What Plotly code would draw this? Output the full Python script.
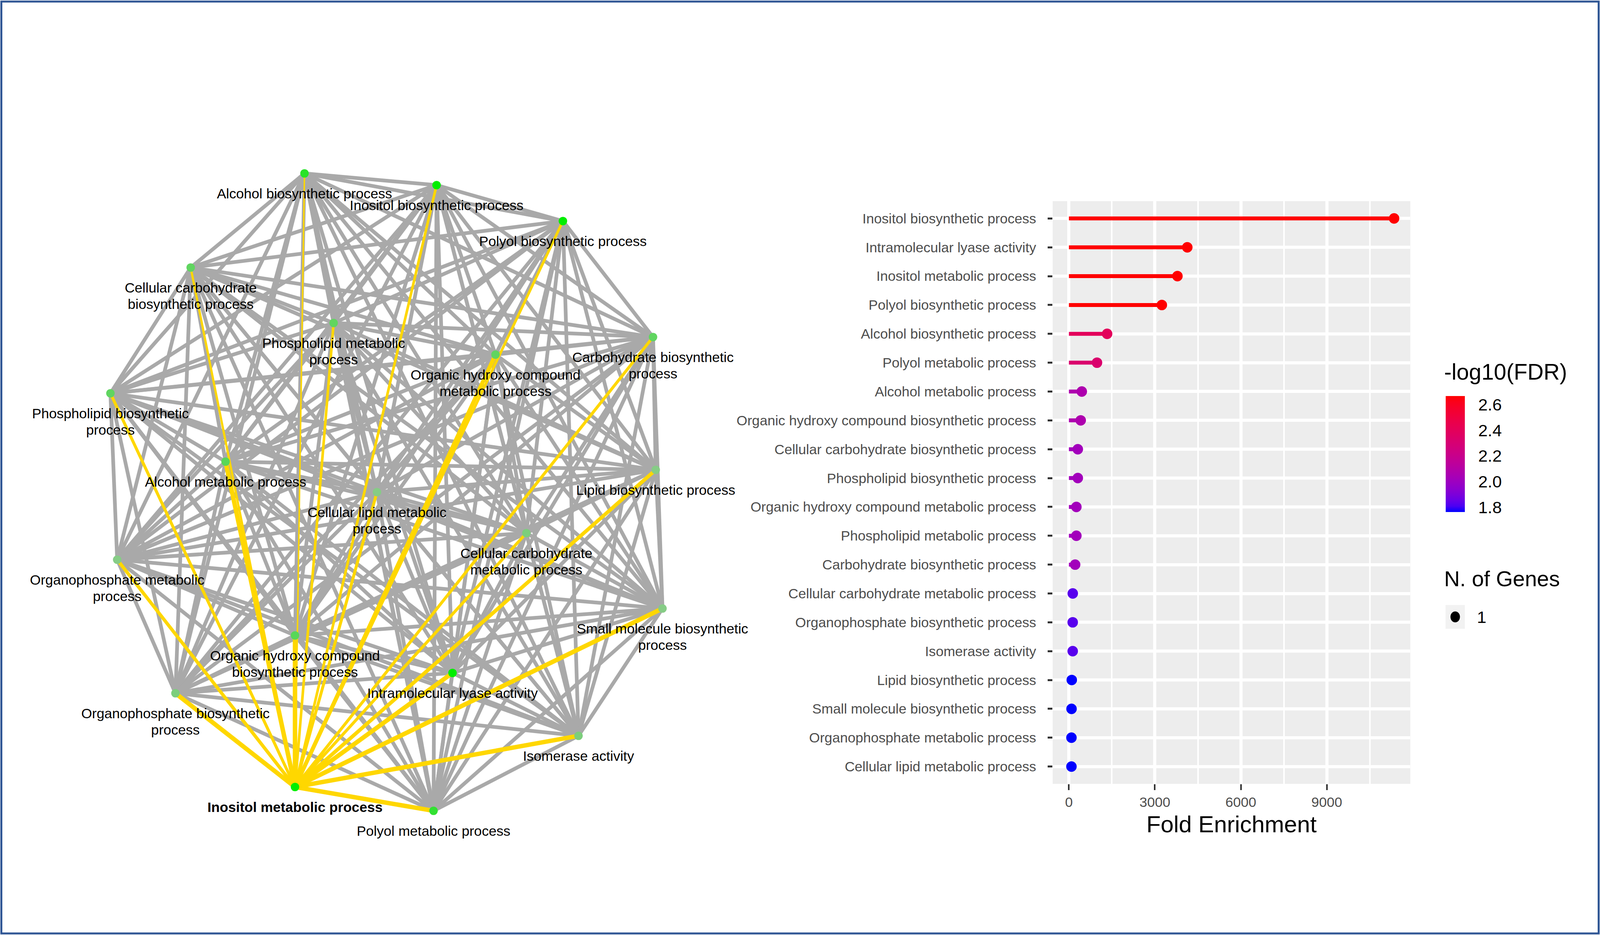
import itertools
import plotly.graph_objects as go

# ---------------- data ----------------
terms = [
    "Inositol biosynthetic process", "Intramolecular lyase activity",
    "Inositol metabolic process", "Polyol biosynthetic process",
    "Alcohol biosynthetic process", "Polyol metabolic process",
    "Alcohol metabolic process", "Organic hydroxy compound biosynthetic process",
    "Cellular carbohydrate biosynthetic process", "Phospholipid biosynthetic process",
    "Organic hydroxy compound metabolic process", "Phospholipid metabolic process",
    "Carbohydrate biosynthetic process", "Cellular carbohydrate metabolic process",
    "Organophosphate biosynthetic process", "Isomerase activity",
    "Lipid biosynthetic process", "Small molecule biosynthetic process",
    "Organophosphate metabolic process", "Cellular lipid metabolic process",
]
fold_enrichment = [11348, 4131, 3787, 3243, 1333, 980, 449, 411, 310, 310,
                   260, 260, 217, 134, 132, 132, 99, 91, 88, 88]
neg_log10_fdr = [2.667, 2.667, 2.667, 2.667, 2.40, 2.33, 2.07, 2.07, 2.02, 2.02,
                 2.02, 2.02, 2.02, 1.83, 1.83, 1.83, 1.764, 1.764, 1.764, 1.764]
n_genes = [1] * 20
x_ticks = [0, 3000, 6000, 9000]
x_minor_ticks = [1500, 4500, 7500, 10500]
cbar_ticks = [1.8, 2.0, 2.2, 2.4, 2.6]

# network layout (node positions from the graph layout, same order as terms)
node_x = [1289, 1336, 871, 1662, 899, 1280, 666, 871, 563, 326,
          1463, 985, 1928, 1554, 518, 1708, 1936, 1956, 346, 1113]
node_y = [474, 1723, 2015, 566, 444, 2076, 1182, 1627, 685, 1007,
          908, 827, 863, 1365, 1775, 1884, 1203, 1558, 1433, 1260]
node_labels = [
    "Inositol biosynthetic process", "Intramolecular lyase activity",
    "Inositol metabolic process", "Polyol biosynthetic process",
    "Alcohol biosynthetic process", "Polyol metabolic process",
    "Alcohol metabolic process", "Organic hydroxy compound\nbiosynthetic process",
    "Cellular carbohydrate\nbiosynthetic process", "Phospholipid biosynthetic\nprocess",
    "Organic hydroxy compound\nmetabolic process", "Phospholipid metabolic\nprocess",
    "Carbohydrate biosynthetic\nprocess", "Cellular carbohydrate\nmetabolic process",
    "Organophosphate biosynthetic\nprocess", "Isomerase activity",
    "Lipid biosynthetic process", "Small molecule biosynthetic\nprocess",
    "Organophosphate metabolic\nprocess", "Cellular lipid metabolic\nprocess",
]
selected_node = 2  # Inositol metabolic process
# width of highlighted edges from the selected node to each node
highlight_width = [7, 12, 0, 7, 4, 12, 12, 12, 6, 8,
                   11, 7, 8, 8, 12, 12, 10, 12, 9, 8]

# ---------------- styling helpers ----------------
FONT = "Liberation Sans, Arial, sans-serif"
RW, RH = 4724, 2394          # reference picture size (pixels)
K = 1.1525                   # device pixels per CSS pixel (horizontal)
W, H = int(RW / K), RH       # initial size; resized to the window in post_script


def px(v):
    return v / K


def fx(v):   # paper x fraction from reference pixel
    return v / RW


def fy(v):   # paper y fraction from reference pixel (top origin)
    return 1 - v / RH


def hex2rgb(h):
    h = h.lstrip('#')
    return [int(h[i:i + 2], 16) / 255 for i in (0, 2, 4)]


def rgb2lab(rgb):
    lin = [c / 12.92 if c <= 0.04045 else ((c + 0.055) / 1.055) ** 2.4 for c in rgb]
    r, g, b = lin
    X = (0.4124 * r + 0.3576 * g + 0.1805 * b) / 0.95047
    Y = (0.2126 * r + 0.7152 * g + 0.0722 * b)
    Z = (0.0193 * r + 0.1192 * g + 0.9505 * b) / 1.08883
    f = lambda t: t ** (1 / 3) if t > 0.008856 else 7.787 * t + 16 / 116
    a, b_, c = f(X), f(Y), f(Z)
    return [116 * b_ - 16, 500 * (a - b_), 200 * (b_ - c)]


def lab2hex(lab):
    L, a, b = lab
    fy_ = (L + 16) / 116
    fx_ = fy_ + a / 500
    fz_ = fy_ - b / 200
    finv = lambda t: t ** 3 if t ** 3 > 0.008856 else (t - 16 / 116) / 7.787
    X, Y, Z = 0.95047 * finv(fx_), finv(fy_), 1.08883 * finv(fz_)
    r = 3.2406 * X - 1.5372 * Y - 0.4986 * Z
    g = -0.9689 * X + 1.8758 * Y + 0.0415 * Z
    bb = 0.0557 * X - 0.2040 * Y + 1.0570 * Z
    out = []
    for c in (r, g, bb):
        c = min(max(c, 0), 1)
        c = 12.92 * c if c <= 0.0031308 else 1.055 * c ** (1 / 2.4) - 0.055
        out.append(int(round(min(max(c, 0), 1) * 255)))
    return '#%02X%02X%02X' % tuple(out)


LOW, HIGH = rgb2lab(hex2rgb('#0000FF')), rgb2lab(hex2rgb('#FF0000'))


def grad(t):
    return lab2hex([LOW[k] + (HIGH[k] - LOW[k]) * t for k in range(3)])


cmin, cmax = min(neg_log10_fdr), max(neg_log10_fdr)
colorscale = [[i / 20, grad(i / 20)] for i in range(21)]


def val_color(v):
    return grad((v - cmin) / (cmax - cmin))


def node_color(v):
    t = (v - cmin) / (cmax - cmin)
    lo, hi = hex2rgb('#86CC86'), hex2rgb('#00EE00')
    return 'rgb(%d,%d,%d)' % tuple(int(255 * (lo[k] + (hi[k] - lo[k]) * t)) for k in range(3))


fig = go.Figure()

# ---------------- network ----------------
ex, ey = [], []
for i, j in itertools.combinations(range(len(node_x)), 2):
    if selected_node in (i, j):
        continue
    ex += [node_x[i], node_x[j], None]
    ey += [node_y[i], node_y[j], None]
fig.add_trace(go.Scatter(x=ex, y=ey, mode='lines', line=dict(color='#A9A9A9', width=9.5),
                         hoverinfo='skip', showlegend=False, xaxis='x', yaxis='y'))
for j in range(len(node_x)):
    if j == selected_node:
        continue
    fig.add_trace(go.Scatter(x=[node_x[selected_node], node_x[j]],
                             y=[node_y[selected_node], node_y[j]], mode='lines',
                             line=dict(color='#FFD700', width=highlight_width[j] * 0.95),
                             hoverinfo='skip', showlegend=False, xaxis='x', yaxis='y'))
fig.add_trace(go.Scatter(x=node_x, y=node_y, mode='markers',
                         marker=dict(size=px(25), color=[node_color(v) for v in neg_log10_fdr],
                                     line=dict(width=0)),
                         text=terms, hoverinfo='text', showlegend=False, xaxis='x', yaxis='y'))
lx, ly, lt = [], [], []
for k, lab in enumerate(node_labels):
    for li, line in enumerate(lab.split('\n')):
        lx.append(node_x[k])
        ly.append(node_y[k] + 55 + li * 42)
        lt.append('<b>%s</b>' % line if k == selected_node else line)
fig.add_trace(go.Scatter(x=lx, y=ly, mode='text', text=lt, textposition='middle center',
                         textfont=dict(family=FONT, size=px(41), color='black'),
                         hoverinfo='skip', showlegend=False, xaxis='x', yaxis='y'))

# ---------------- lollipop ----------------
for t, fe, v in zip(terms, fold_enrichment, neg_log10_fdr):
    fig.add_trace(go.Scatter(x=[0, fe], y=[t, t], mode='lines',
                             line=dict(color=val_color(v), width=10),
                             hoverinfo='skip', showlegend=False, xaxis='x2', yaxis='y2'))
fig.add_trace(go.Scatter(
    x=fold_enrichment, y=terms, mode='markers', showlegend=False,
    customdata=n_genes,
    marker=dict(size=px(31), color=neg_log10_fdr, colorscale=colorscale, cmin=cmin, cmax=cmax,
                line=dict(width=0),
                colorbar=dict(x=fx(4268), xanchor='left', y=fy(1162), yanchor='middle',
                              len=297 / RH, lenmode='fraction', thickness=px(57),
                              thicknessmode='pixels',
                              xpad=0, ypad=0, outlinewidth=0,
                              tickvals=cbar_ticks, ticktext=['%.1f' % v for v in cbar_ticks],
                              ticks='outside', ticklen=px(30), tickcolor='rgba(0,0,0,0)',
                              tickfont=dict(family=FONT, size=px(50), color='black'))),
    xaxis='x2', yaxis='y2'))

x_lo = -0.05 * max(fold_enrichment)
x_hi = 1.05 * max(fold_enrichment)

# size legend ("N. of Genes") key positions in reference pixels
key_x0, key_x1, key_y0, key_y1 = 4268, 4325, 1549, 1610
key_cx, key_cy = (key_x0 + key_x1) / 2, (key_y0 + key_y1) / 2
dot_r = 14

fig.update_layout(
    width=W, height=H, margin=dict(l=0, r=0, t=0, b=0),
    paper_bgcolor='white', plot_bgcolor='rgba(0,0,0,0)',
    font=dict(family=FONT), showlegend=False,
    xaxis=dict(domain=[0, fx(2300)], range=[0, 2300], visible=False, fixedrange=True),
    yaxis=dict(domain=[0, 1], range=[RH, 0], visible=False, fixedrange=True),
    xaxis2=dict(domain=[fx(3108), fx(4164)], range=[x_lo, x_hi], anchor='y2',
                tickvals=x_ticks, ticks='outside', ticklen=15, tickwidth=px(5),
                tickcolor='#333333',
                tickfont=dict(family=FONT, size=px(41), color='#4D4D4D'),
                showgrid=True, gridcolor='white', gridwidth=px(9), zeroline=False,
                showline=False,
                minor=dict(tickvals=x_minor_ticks, showgrid=True,
                           gridcolor='white', gridwidth=px(5), ticks=''),
                title=dict(text='Fold Enrichment',
                           font=dict(family=FONT, size=px(69), color='black'),
                           standoff=16)),
    yaxis2=dict(domain=[fy(2007), fy(515)], anchor='x2', type='category',
                categoryorder='array', categoryarray=terms, range=[len(terms) - 0.4, -0.6],
                ticks='outside', ticklen=px(14), tickwidth=5, tickcolor='#333333',
                ticklabelstandoff=int(round(px(25))),
                tickfont=dict(family=FONT, size=px(41), color='#4D4D4D'),
                showgrid=True, gridcolor='white', gridwidth=8, zeroline=False,
                showline=False),
    shapes=[
        dict(type='rect', xref='x2 domain', yref='y2 domain', x0=0, x1=1, y0=0, y1=1,
             fillcolor='#EDEDED', line=dict(width=0), layer='below'),
        dict(type='rect', xref='paper', yref='paper', x0=fx(key_x0), x1=fx(key_x1),
             y0=fy(key_y1), y1=fy(key_y0), fillcolor='#F2F2F2', line=dict(width=0)),
        dict(type='circle', xref='paper', yref='paper',
             x0=fx(key_cx - dot_r), x1=fx(key_cx + dot_r),
             y0=fy(key_cy + dot_r), y1=fy(key_cy - dot_r),
             fillcolor='black', line=dict(width=0)),
        dict(type='rect', xref='paper', yref='paper', x0=fx(4), x1=fx(RW - 4), y0=fy(RH - 4),
             y1=fy(4), line=dict(color='#2E5594', width=5), fillcolor='rgba(0,0,0,0)'),
    ],
    annotations=[
        dict(text='-log10(FDR)', xref='paper', yref='paper', x=fx(4262), y=fy(952),
             xanchor='left', yanchor='middle', showarrow=False,
             font=dict(family=FONT, size=px(66), color='black')),
        dict(text='N. of Genes', xref='paper', yref='paper', x=fx(4262), y=fy(1482),
             xanchor='left', yanchor='middle', showarrow=False,
             font=dict(family=FONT, size=px(64), color='black')),
        dict(text=str(n_genes[0]), xref='paper', yref='paper', x=fx(4358), y=fy(key_cy),
             xanchor='left', yanchor='middle', showarrow=False,
             font=dict(family=FONT, size=px(50), color='black')),
    ],
)

fig.write_html(
    "out.html",
    config={'displayModeBar': False},
    post_script=("document.body.style.margin='0';document.body.style.overflow='hidden';"
                 "var gd=document.getElementById('{plot_id}');"
                 "Plotly.relayout(gd,{width:window.innerWidth,height:window.innerHeight});"),
)
